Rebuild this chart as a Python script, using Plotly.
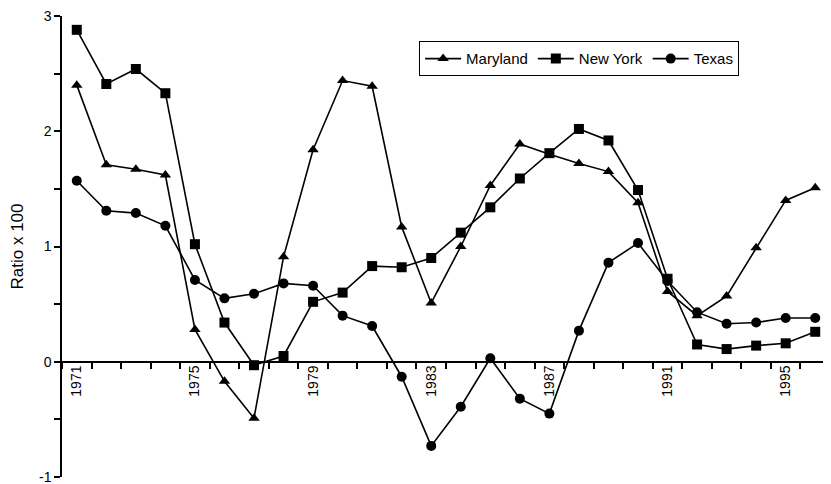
import plotly.graph_objects as go

years = list(range(1971, 1997))
maryland = [2.40, 1.71, 1.67, 1.62, 0.28, -0.17, -0.49, 0.91, 1.84, 2.44, 2.39, 1.17,
            0.51, 1.00, 1.53, 1.89, 1.80, 1.72, 1.65, 1.38, 0.61, 0.40, 0.57, 0.99, 1.40, 1.51]
new_york = [2.88, 2.41, 2.54, 2.33, 1.02, 0.34, -0.03, 0.05, 0.52, 0.60, 0.83, 0.82,
            0.90, 1.12, 1.34, 1.59, 1.81, 2.02, 1.92, 1.49, 0.72, 0.15, 0.11, 0.14, 0.16, 0.26]
texas = [1.57, 1.31, 1.29, 1.18, 0.71, 0.55, 0.59, 0.68, 0.66, 0.40, 0.31, -0.13,
         -0.73, -0.39, 0.03, -0.32, -0.45, 0.27, 0.86, 1.03, 0.70, 0.43, 0.33, 0.34, 0.38, 0.38]
tick_years = [1971, 1975, 1979, 1983, 1987, 1991, 1995]
y_ticks = [-1, -0.5, 0, 0.5, 1, 1.5, 2, 2.5, 3]
y_labels = ["-1", "", "0", "", "1", "", "2", "", "3"]

x_range = [years[0] - 0.5, years[-1] + 0.5]
boundaries = [y - 0.5 for y in years] + [years[-1] + 0.5]

fig = go.Figure()
for name, vals, sym in [("Maryland", maryland, "triangle-up"),
                        ("New York", new_york, "square"),
                        ("Texas", texas, "circle")]:
    fig.add_trace(go.Scatter(
        x=years, y=vals, name=name, mode="lines+markers",
        line=dict(color="black", width=1.6),
        marker=dict(symbol=sym, size=10, color="black"),
        cliponaxis=False,
    ))
# invisible trace to carry the label axis
fig.add_trace(go.Scatter(x=x_range, y=[None, None], xaxis="x2", showlegend=False,
                         hoverinfo="skip", mode="lines"))

fig.update_layout(
    width=831, height=484,
    margin=dict(l=54, r=9, t=8, b=15),
    paper_bgcolor="white", plot_bgcolor="white",
    font=dict(family="Liberation Sans, Arial, sans-serif", size=13, color="black"),
    showlegend=True,
    legend=dict(
        orientation="h", x=0.465, y=0.945, xanchor="left", yanchor="top",
        bordercolor="black", borderwidth=1, bgcolor="white",
        font=dict(size=15), itemwidth=36,
    ),
    xaxis=dict(
        range=x_range, anchor="free", position=0.25, automargin=False,
        showline=True, linecolor="black", linewidth=1.5,
        showgrid=False, zeroline=False,
        tickmode="array", tickvals=boundaries, ticktext=[""] * len(boundaries),
        ticks="outside", ticklen=6, tickcolor="black", tickwidth=1.5,
    ),
    xaxis2=dict(
        range=x_range, overlaying="x", anchor="free", position=0.25, side="bottom",
        automargin=False, showline=False, showgrid=False, zeroline=False,
        tickmode="array", tickvals=tick_years, ticktext=[str(t) for t in tick_years],
        tickangle=-90, ticks="", tickfont=dict(size=14), ticklabeloverflow="allow",
    ),
    yaxis=dict(
        range=[-1, 3], automargin=False, showline=True, linecolor="black", linewidth=1.5,
        showgrid=False, zeroline=False,
        tickmode="array", tickvals=y_ticks, ticktext=y_labels,
        ticks="outside", ticklen=6, tickcolor="black", tickwidth=1.5,
        ticklabeloverflow="allow",
        title=dict(text="Ratio x 100", font=dict(size=17), standoff=22),
        tickfont=dict(size=14),
    ),
)

fig.write_html("out.html")
